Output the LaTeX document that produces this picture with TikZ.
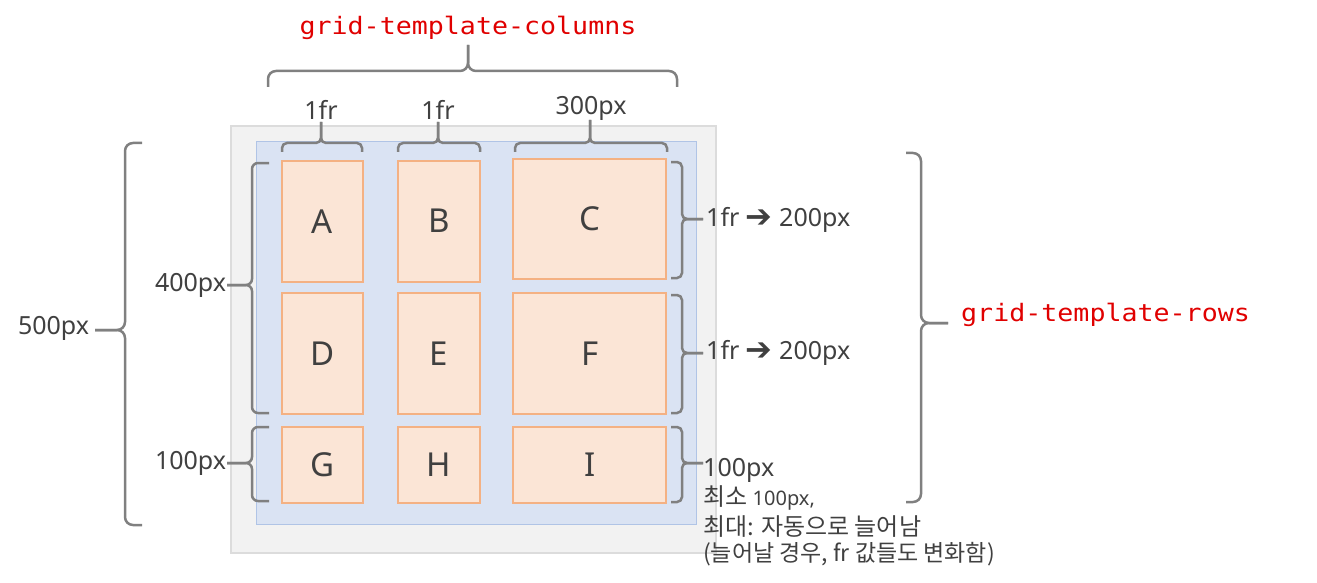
\documentclass[tikz,border=0pt]{standalone}
\usepackage{fontspec}
\setmainfont{Noto Sans}
\newfontfamily\krfont{Noto Sans CJK KR}
\newfontfamily\codefont{DejaVu Sans Mono}
\newfontfamily\symfont{DejaVu Sans Bold}
\definecolor{txt}{HTML}{404040}
\definecolor{outerfill}{HTML}{F2F2F2}
\definecolor{outerline}{HTML}{DCDCDC}
\definecolor{bluefill}{HTML}{DAE3F3}
\definecolor{blueline}{HTML}{B0C4E6}
\definecolor{cellfill}{HTML}{FBE5D6}
\definecolor{cellline}{HTML}{F4B183}
\definecolor{bracecol}{HTML}{808080}
\definecolor{codered}{RGB}{224,0,0}
\tikzset{
  brc/.style={draw=bracecol, line width=2.5pt},
  cell/.style={draw=cellline, fill=cellfill, line width=1.8pt, inner sep=0pt,
    text=txt, font=\fontsize{33}{36}\selectfont},
  lbl/.style={text=txt, inner sep=0pt, font=\fontsize{25}{28}\selectfont},
  krl/.style={text=txt, inner sep=0pt, anchor=west, font=\krfont\fontsize{24}{26}\selectfont},
  code/.style={text=codered, inner sep=0pt, font=\codefont\fontsize{24}{26}\selectfont},
}
\newcommand\arrowsym{{\symfont\fontsize{32}{32}\selectfont\raisebox{-1pt}{➔}}}
\newcommand\vbrace[7][6]{%
  \draw[brc, rounded corners=#1pt] (#2,#4) -- (#3,#4) -- (#3,#6) -- (#7,#6);
  \draw[brc, rounded corners=#1pt] (#2,#5) -- (#3,#5) -- (#3,#6) -- (#7,#6);}
\newcommand\hbrace[7][6]{%
  \draw[brc, rounded corners=#1pt] (#4,#2) -- (#4,#3) -- (#6,#3) -- (#6,#7);
  \draw[brc, rounded corners=#1pt] (#5,#2) -- (#5,#3) -- (#6,#3) -- (#6,#7);}
\begin{document}
\begin{tikzpicture}[x=1pt,y=-1pt]
\useasboundingbox (0,0) rectangle (1317,583);
% containers
\node[draw=outerline, fill=outerfill, line width=1.5pt, minimum width=485pt, minimum height=427pt, inner sep=0pt] (outer) at (473.5,339.5) {};
\node[draw=blueline, fill=bluefill, line width=1.5pt, minimum width=440pt, minimum height=382.6pt, inner sep=0pt] (grid) at (476.7,333) {};
% cells
\node[cell, minimum width=81.6pt, minimum height=121pt] (A) at (322.5,221.2) {A};
\node[cell, minimum width=82.3pt, minimum height=121pt] (B) at (438.9,221.2) {B};
\node[cell, minimum width=152.7pt, minimum height=120.3pt] (C) at (589.7,219.2) {C};
\node[cell, minimum width=81.6pt, minimum height=121pt] (D) at (322.5,353.5) {D};
\node[cell, minimum width=82.3pt, minimum height=121pt] (E) at (438.9,353.5) {E};
\node[cell, minimum width=152.7pt, minimum height=121pt] (F) at (589.7,353.5) {F};
\node[cell, minimum width=81.6pt, minimum height=76pt] (G) at (322.5,464.7) {G};
\node[cell, minimum width=82.3pt, minimum height=76pt] (H) at (438.9,464.7) {H};
\node[cell, minimum width=152.7pt, minimum height=76pt] (I) at (589.7,464.7) {I};
% braces
\hbrace[8]{87}{71}{268}{677}{468}{45}
\hbrace[5]{152}{143}{282}{362}{321}{122}
\hbrace[5]{152}{143}{398}{480}{438}{122}
\hbrace[5]{152}{143}{515}{667}{590}{120}
\vbrace[8]{142}{125}{143}{525}{330}{95}
\vbrace[6]{269}{252}{163}{413}{285}{227}
\vbrace[6]{269}{252}{427}{501}{463}{227}
\vbrace[5]{671}{682}{162}{278}{219}{703}
\vbrace[5]{671}{682}{295}{413}{353}{703}
\vbrace[5]{671}{682}{427}{502}{463}{703}
\vbrace[8]{906}{921}{153}{502}{323}{948}
% labels
\node[code] (cols) at (468,28) {\scalebox{1.11}[1]{grid-template-columns}};
\node[code, anchor=west] (rows) at (961,315) {\scalebox{1.11}[1]{grid-template-rows}};
\node[lbl] (c1) at (321,110) {1fr};
\node[lbl] (c2) at (438,110) {1fr};
\node[lbl] (c3) at (591,108) {300px};
\node[lbl] (h500) at (53.5,328) {500px};
\node[lbl] (h400) at (190.5,285) {400px};
\node[lbl] (h100) at (190.5,463) {100px};
\node[lbl, anchor=west] (r1) at (706,220) {1fr \arrowsym{} 200px};
\node[lbl, anchor=west] (r2) at (706,353) {1fr \arrowsym{} 200px};
\node[lbl, anchor=west] (r3) at (703,470) {100px};
\node[krl] (k1) at (703,498) {최소 {\normalfont\fontsize{20}{22}\selectfont 100px,}};
\node[krl] (k2) at (703,527) {최대: 자동으로 늘어남};
\node[krl, font=\krfont\fontsize{23}{25}\selectfont] (k3) at (703,554) {(늘어날 경우, fr 값들도 변화함)};
\end{tikzpicture}
\end{document}
